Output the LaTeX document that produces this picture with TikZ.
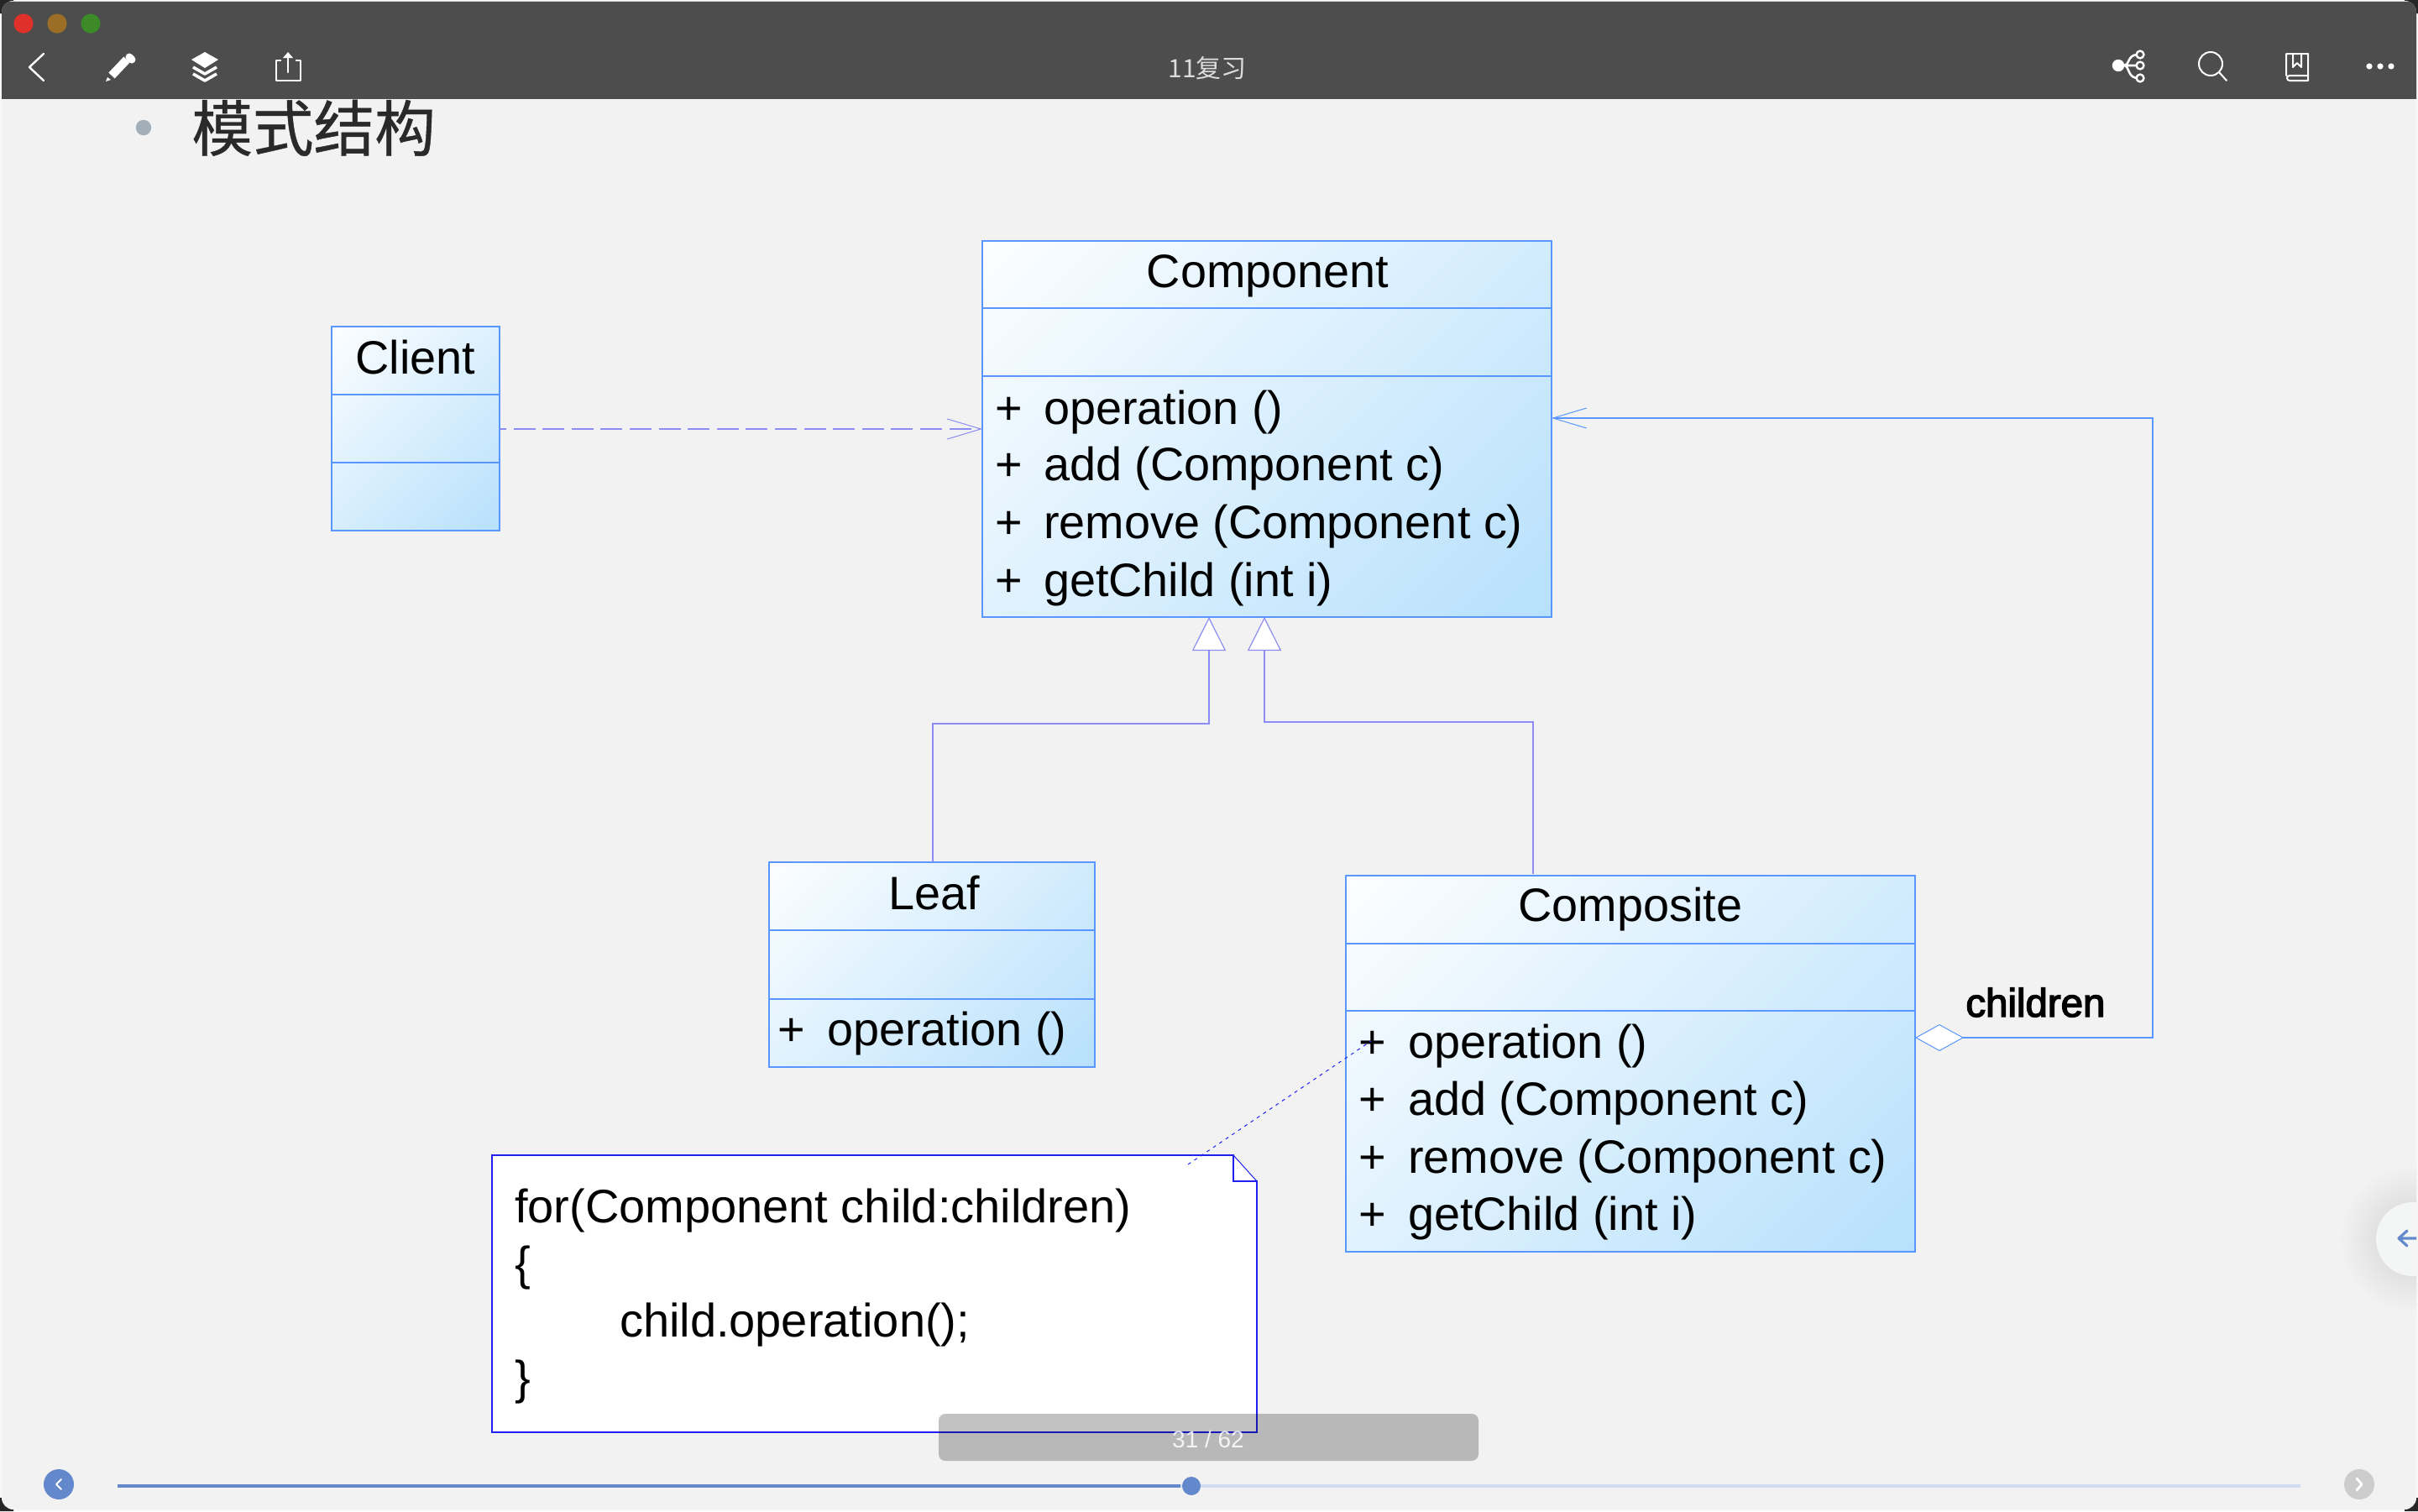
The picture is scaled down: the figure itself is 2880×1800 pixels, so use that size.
\documentclass[tikz,border=0pt]{standalone}
\usepackage{fontspec}
\setmainfont{Liberation Sans}
\newfontfamily\cjk{Noto Sans CJK SC}
\newfontfamily\cjkb{Noto Sans CJK SC}[FakeBold=.6]
\newfontfamily\rolefont{Liberation Sans}[FakeBold=3]
\usetikzlibrary{arrows.meta,calc}
\definecolor{winbg}{HTML}{F2F2F2}
\definecolor{outerc}{HTML}{F8F8F8}
\definecolor{bar}{HTML}{4D4D4D}
\definecolor{boxline}{HTML}{5A96FF}
\definecolor{conn}{HTML}{8C8CF4}
\definecolor{noteline}{HTML}{2020F0}
\definecolor{shadeend}{HTML}{B4DFFC}
\definecolor{uiblue}{HTML}{6488CC}
\definecolor{bulletc}{HTML}{A2AFB8}
\definecolor{sidebtn}{HTML}{F4F6F6}
\definecolor{strip}{HTML}{D8D8D8}
\definecolor{tlred}{HTML}{E0302A}
\definecolor{tlamber}{HTML}{9A6E25}
\definecolor{tlgreen}{HTML}{3E8A28}
\definecolor{trackc}{HTML}{D0DCF0}
\definecolor{nextc}{HTML}{CCCCCC}
\definecolor{headc}{HTML}{2A2A2A}
\definecolor{docc}{HTML}{DCDCDC}
\pgfdeclareverticalshading{umlgrad}{100bp}{color(0bp)=(shadeend); color(12bp)=(shadeend); color(88bp)=(white); color(100bp)=(white)}
\tikzset{
  umlbox/.style={draw=boxline,line width=.75pt,inner sep=0pt,outer sep=0pt,shade,shading=umlgrad,shading angle=45},
  divider/.style={draw=boxline,line width=.6pt},
  txt/.style={anchor=base west,inner sep=0pt,outer sep=0pt,font=\fontsize{27.9pt}{30pt}\selectfont,text=black},
  notetxt/.style={anchor=base west,inner sep=0pt,outer sep=0pt,font=\fontsize{28pt}{30pt}\selectfont,text=black},
  ttl/.style={anchor=base,inner sep=0pt,outer sep=0pt,font=\fontsize{27.9pt}{30pt}\selectfont,text=black},
  link/.style={draw=conn,line width=.6pt},
  icon/.style={draw=white,line width=1.2pt,line cap=round,line join=round},
  openhead/.style={-{Straight Barb[length=20pt,width=12pt,line width=.5pt]}},
  inherit/.style={-{Triangle[open,fill=white,length=20pt,width=20pt,line width=.6pt]}}
}
\begin{document}
\begin{tikzpicture}[x=.5pt,y=-.5pt]
\useasboundingbox (0,0) rectangle (2880,1800);
\fill[outerc] (0,0) rectangle (2880,1800);
\fill[black!85] (0,0) rectangle (16,16) (2864,0) rectangle (2880,16) (0,1784) rectangle (16,1800) (2864,1784) rectangle (2880,1800);
\begin{scope}
\clip[rounded corners=7pt] (2,1) rectangle (2878,1798);
\fill[winbg] (0,0) rectangle (2880,1800);
% title (slips under the toolbar)
\fill[bulletc] (171,152) circle[radius=4.6pt];
\node[anchor=base west,inner sep=0pt,text=headc] (heading) at (228,180) {\cjkb\fontsize{36.3pt}{37pt}\selectfont 模式结构};
% side button
\shade[inner color=black!14!winbg,outer color=winbg] (2874,1476) circle[radius=44pt];
\fill[sidebtn] (2874,1476) circle[radius=22pt];
\draw[uiblue,line width=1.6pt,line cap=round,line join=round] (2880,1475) -- (2857,1475) (2867,1466) -- (2857,1475) -- (2867,1484);
% toolbar
\fill[bar] (0,0) rectangle (2880,118);
\fill[strip] (0,0) rectangle (2880,2);
\end{scope}
\fill[tlred] (28,28) circle[radius=5.8pt];
\fill[tlamber] (68,28) circle[radius=5.8pt];
\fill[tlgreen] (108,28) circle[radius=5.8pt];
% left icons
\draw[icon] (52,64) -- (35,80) -- (52,96);
\draw[white,line width=5pt] (133,90) -- (151,71);
\draw[white,line width=4.5pt,line cap=round] (154,68) -- (157,71);
\fill[white] (126,97) -- (128,92) -- (132,95) -- cycle;
\fill[white] (228,71) -- (244,62) -- (260,71) -- (244,81) -- cycle;
\draw[white,line width=1.8pt,line join=round] (230,80) -- (244,88) -- (258,80) (230,88) -- (244,96) -- (258,88);
\draw[icon,line cap=butt] (335,72) -- (329,72) -- (329,96) -- (358,96) -- (358,72) -- (352,72);
\draw[icon] (343,86) -- (343,64);
\fill[white] (337,69) -- (343,62) -- (349,69) -- cycle;
\node[inner sep=0pt,text=docc] (doc) at (1438,81) {\cjk\fontsize{15pt}{16pt}\selectfont 11复习};
% right icons
\fill[white] (2523,78) circle[radius=3.6pt];
\draw[white,line width=1.3pt] (2530,78) -- (2545,78) (2530,78) .. controls (2536,78) and (2534,66) .. (2545,65) (2530,78) .. controls (2536,78) and (2534,92) .. (2545,93);
\draw[white,line width=1.2pt] (2549,65) circle[radius=2.2pt] (2549,78) circle[radius=2.2pt] (2549,93) circle[radius=2.2pt];
\draw[icon,line width=1pt] (2633,76) circle[radius=7pt];
\draw[icon,line width=1pt] (2643,86) -- (2652,96);
\draw[icon,line width=1pt] (2723,90) -- (2723,64) -- (2749,64) -- (2749,96) -- (2727,96) .. controls (2723,96) and (2723,90) .. (2727,90) -- (2749,90);
\draw[icon,line width=1pt] (2731,64) -- (2731,80) -- (2736,75) -- (2741,80) -- (2741,64);
\fill[white] (2822,79) circle[radius=1.8pt] (2835,79) circle[radius=1.8pt] (2848,79) circle[radius=1.8pt];

% classes
\node[umlbox,minimum width=339pt,minimum height=224pt] (component) at (1509,511) {};
\draw[divider] (component.west |- 0,367) -- (component.east |- 0,367);
\draw[divider] (component.west |- 0,448) -- (component.east |- 0,448);
\node[ttl] (ct) at (1510,342) {Component};
\node[txt] (c1p) at (1185,505) {+}; \node[txt] (c1) at (1243,505) {operation ()};
\node[txt] (c2p) at (1185,572) {+}; \node[txt] (c2) at (1243,572) {add (Component c)};
\node[txt] (c3p) at (1185,641) {+}; \node[txt] (c3) at (1243,641) {remove (Component c)};
\node[txt] (c4p) at (1185,710) {+}; \node[txt] (c4) at (1243,710) {getChild (int i)};

\node[umlbox,minimum width=100pt,minimum height=121.5pt] (client) at (495,510.5) {};
\draw[divider] (client.west |- 0,470) -- (client.east |- 0,470);
\draw[divider] (client.west |- 0,551) -- (client.east |- 0,551);
\node[ttl] (clt) at (495,445) {Client};

\node[umlbox,minimum width=194pt,minimum height=122pt] (leaf) at (1110,1149) {};
\draw[divider] (leaf.west |- 0,1108) -- (leaf.east |- 0,1108);
\draw[divider] (leaf.west |- 0,1190) -- (leaf.east |- 0,1190);
\node[ttl] (lt) at (1113,1083) {Leaf};
\node[txt] (l1p) at (926,1245) {+}; \node[txt] (l1) at (985,1245) {operation ()};

\node[umlbox,minimum width=339pt,minimum height=224pt] (composite) at (1942,1267) {};
\draw[divider] (composite.west |- 0,1124) -- (composite.east |- 0,1124);
\draw[divider] (composite.west |- 0,1204) -- (composite.east |- 0,1204);
\node[ttl] (mt) at (1942,1097) {Composite};
\node[txt] (m1p) at (1618,1260) {+}; \node[txt] (m1) at (1677,1260) {operation ()};
\node[txt] (m2p) at (1618,1328) {+}; \node[txt] (m2) at (1677,1328) {add (Component c)};
\node[txt] (m3p) at (1618,1397) {+}; \node[txt] (m3) at (1677,1397) {remove (Component c)};
\node[txt] (m4p) at (1618,1465) {+}; \node[txt] (m4) at (1677,1465) {getChild (int i)};

% note
\coordinate (nw) at (586,1376); \coordinate (fa) at (1469,1376); \coordinate (fb) at (1469,1407);
\coordinate (fc) at (1497,1407); \coordinate (se) at (1497,1706); \coordinate (sw) at (586,1706);
\fill[white] (nw) -- (fa) -- (fc) -- (se) -- (sw) -- cycle;
\draw[noteline,line width=.8pt] (nw) -- (fa) -- (fb) -- (fc) -- (se) -- (sw) -- cycle;
\draw[noteline,line width=.5pt] (fa) -- (fc);
\node[notetxt] (n1) at (613,1456) {for(Component child:children)};
\node[notetxt] (n2) at (613,1524) {\{};
\node[notetxt] (n3) at (738,1592) {child.operation();};
\node[notetxt] (n4) at (613,1660) {\}};

% connectors
\coordinate (dep) at (0,511);
\draw[link,dash pattern=on 13pt off 4.3pt,dash phase=9pt,openhead] (client.east |- dep) -- (component.west |- dep);
\coordinate (a1) at (1440,0); \coordinate (a2) at (1506,0);
\coordinate (b1) at (0,862); \coordinate (b2) at (0,860);
\coordinate (lx) at (1111,0); \coordinate (mx) at (1826,0);
\draw[link,inherit] (leaf.north -| lx) -- (lx |- b1) -- (a1 |- b1) -- (a1 |- component.south);
\draw[link,inherit] (mx |- 0,1041) -- (mx |- b2) -- (a2 |- b2) -- (a2 |- component.south);
\coordinate (ay) at (0,1236); \coordinate (rx) at (2564,0); \coordinate (ty) at (0,498);
\draw[draw=boxline,line width=.6pt,{Diamond[fill=white,length=29pt,width=16pt,line width=.5pt]}-{Straight Barb[length=20pt,width=12pt,line width=.5pt]}] (composite.east |- ay) -- (rx |- ay) -- (rx |- ty) -- (component.east |- ty);
\node[anchor=base west,inner sep=0pt,font=\rolefont\fontsize{23.7pt}{26pt}\selectfont] (role) at (2341,1211) {children};
\coordinate (dotA) at (1415,1387); \coordinate (dotB) at (1633,1240);
\draw[noteline,line width=.5pt,dash pattern=on 2pt off 2.5pt] (dotA) -- (dotB);

% bottom bar
\fill[black,opacity=.24,rounded corners=4pt] (1118,1684) rectangle (1761,1740);
\node[inner sep=0pt,text=white,opacity=.85,font=\fontsize{14pt}{15pt}\selectfont] (page) at (1439,1714) {31 / 62};
\fill[uiblue] (70,1768) circle[radius=9pt];
\draw[white,line width=1pt,line cap=round,line join=round] (73,1762) -- (67,1768) -- (73,1774);
\fill[trackc] (1406,1768) rectangle (2740,1772);
\fill[uiblue] (140,1768) rectangle (1406,1772);
\fill[uiblue] (1419,1770) circle[radius=5.5pt];
\fill[nextc] (2810,1768) circle[radius=9pt];
\draw[white,line width=1.4pt,line cap=round,line join=round] (2807,1761) -- (2813,1768) -- (2807,1775);
\end{tikzpicture}
\end{document}
